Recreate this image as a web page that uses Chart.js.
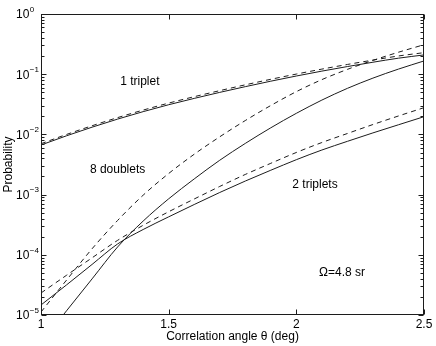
<!DOCTYPE html>
<html>
<head>
<meta charset="utf-8">
<script src="https://cdn.jsdelivr.net/npm/chart.js@4"></script>
<style>
  html, body { margin: 0; padding: 0; background: #fff; }
  canvas { display: block; }
</style>
</head>
<body>
<canvas id="c" width="436" height="346"></canvas>
<script>
// ---- data ----
const theta = [1.0, 1.1, 1.2, 1.3, 1.4, 1.5, 1.6, 1.7, 1.8, 1.9, 2.0, 2.1, 2.2, 2.3, 2.4, 2.5];

const oneTripletSolid    = [0.00667, 0.00948, 0.01318, 0.01795, 0.02388, 0.03112, 0.03963, 0.04989, 0.06209, 0.07656, 0.09333, 0.1125, 0.1340, 0.1581, 0.1845, 0.209];
const oneTripletDashed   = [0.0070, 0.00998, 0.01392, 0.0190, 0.02534, 0.0331, 0.0423, 0.0533, 0.0666, 0.0823, 0.1005, 0.1215, 0.1451, 0.1715, 0.2007, 0.228];
const eightDoubletsSolid = [3.39e-6, 1.175e-5, 3.98e-5, 1.349e-4, 3.63e-4, 8.51e-4, 1.82e-3, 3.72e-3, 7.08e-3, 0.01288, 0.02239, 0.03715, 0.0582, 0.0861, 0.1216, 0.166];
const eightDoubletsDashed= [1.12e-5, 3.80e-5, 1.259e-4, 3.72e-4, 9.77e-4, 2.24e-3, 4.68e-3, 9.12e-3, 0.01698, 0.0302, 0.0513, 0.0813, 0.1202, 0.1698, 0.2317, 0.309];
const twoTripletsSolid   = [1.466e-5, 3.16e-5, 6.92e-5, 1.514e-4, 2.63e-4, 4.27e-4, 6.84e-4, 1.084e-3, 1.679e-3, 2.54e-3, 3.80e-3, 5.50e-3, 7.67e-3, 0.01059, 0.01445, 0.01968];
const twoTripletsDashed  = [2.32e-5, 4.57e-5, 8.91e-5, 1.738e-4, 3.09e-4, 5.19e-4, 8.45e-4, 1.365e-3, 2.16e-3, 3.31e-3, 5.01e-3, 7.33e-3, 0.01035, 0.01459, 0.02023, 0.0278];

const xTicks = [1, 1.5, 2, 2.5];
const xTickLabels = ['1', '1.5', '2', '2.5'];
const yTickExponents = [-5, -4, -3, -2, -1, 0];

const xTitle = 'Correlation angle \u03B8 (deg)';
const yTitle = 'Probability';

// in-plot annotations, anchored in data coordinates (theta, probability)
const annotations = [
  { text: '1 triplet',  x: 1.387, y: 0.0757 },
  { text: '8 doublets', x: 1.300, y: 0.00256 },
  { text: '2 triplets', x: 2.073, y: 0.00144 },
  { text: '\u03A9=4.8 sr', x: 2.179, y: 4.99e-5 }
];

// ---- chart ----
const FONT = '"Liberation Sans", Arial, Helvetica, sans-serif';
const INK = '#1c1c1c';

function series(values, dashed) {
  return {
    data: theta.map((t, i) => ({ x: t, y: values[i] })),
    borderColor: INK,
    borderWidth: 1,
    borderDash: dashed ? [5, 4] : [],
    pointRadius: 0,
    fill: false,
    cubicInterpolationMode: 'monotone'
  };
}

const framePlugin = {
  id: 'frame',
  afterDraw(chart) {
    const ctx = chart.ctx;
    const a = chart.chartArea;
    const xs = chart.scales.x, ys = chart.scales.y;
    ctx.save();
    ctx.strokeStyle = INK;
    ctx.lineWidth = 1;
    const L = Math.round(a.left) + 0.5, R = Math.round(a.right) - 0.5;
    const T = Math.round(a.top) + 0.5, B = Math.round(a.bottom) - 0.5;
    ctx.strokeRect(L, T, R - L, B - T);

    // y ticks (major + minor), on left and right
    ctx.beginPath();
    yTickExponents.forEach(k => {
      const py = Math.round(ys.getPixelForValue(Math.pow(10, k))) + 0.5;
      ctx.moveTo(L, py); ctx.lineTo(L + 5, py);
      ctx.moveTo(R, py); ctx.lineTo(R - 5, py);
      if (k < 0) {
        for (let m = 2; m <= 9; m++) {
          const my = Math.round(ys.getPixelForValue(m * Math.pow(10, k))) + 0.5;
          ctx.moveTo(L, my); ctx.lineTo(L + 3, my);
          ctx.moveTo(R, my); ctx.lineTo(R - 3, my);
        }
      }
    });
    // x ticks, bottom and top
    xTicks.forEach(v => {
      const px = Math.round(xs.getPixelForValue(v)) + 0.5;
      ctx.moveTo(px, B); ctx.lineTo(px, B - 5);
      ctx.moveTo(px, T); ctx.lineTo(px, T + 5);
    });
    ctx.stroke();

    ctx.fillStyle = '#000';
    // y tick labels 10^k
    yTickExponents.forEach(k => {
      const py = ys.getPixelForValue(Math.pow(10, k));
      ctx.font = '12px ' + FONT;
      ctx.textAlign = 'left';
      ctx.textBaseline = 'middle';
      const bx = 16;
      ctx.fillText('10', bx, py + 1);
      const w = ctx.measureText('10').width;
      ctx.font = '8px ' + FONT;
      ctx.fillText(k === 0 ? '0' : '\u2212' + (-k), bx + w + 0.5, py - 4.5);
    });
    // x tick labels
    ctx.font = '12px ' + FONT;
    ctx.textAlign = 'center';
    ctx.textBaseline = 'middle';
    xTicks.forEach((v, i) => {
      ctx.fillText(xTickLabels[i], xs.getPixelForValue(v), 324.5);
    });
    // axis titles
    ctx.fillText(xTitle, (a.left + a.right) / 2, 336.5);
    ctx.save();
    ctx.translate(12, (a.top + a.bottom) / 2);
    ctx.rotate(-Math.PI / 2);
    ctx.textBaseline = 'alphabetic';
    ctx.fillText(yTitle, 0, 0);
    ctx.restore();

    // annotations
    ctx.textBaseline = 'middle';
    annotations.forEach(n => {
      ctx.fillText(n.text, xs.getPixelForValue(n.x), ys.getPixelForValue(n.y));
    });
    ctx.restore();
  }
};

new Chart(document.getElementById('c'), {
  type: 'line',
  data: {
    datasets: [
      series(oneTripletSolid, false),
      series(oneTripletDashed, true),
      series(eightDoubletsSolid, false),
      series(eightDoubletsDashed, true),
      series(twoTripletsSolid, false),
      series(twoTripletsDashed, true)
    ]
  },
  options: {
    responsive: false,
    animation: false,
    devicePixelRatio: 1,
    layout: { padding: { left: 0, right: 12, top: 14, bottom: 0 } },
    plugins: { legend: { display: false }, tooltip: { enabled: false } },
    scales: {
      x: {
        type: 'linear', min: 1, max: 2.5,
        ticks: { display: false },
        grid: { display: false, drawTicks: false },
        border: { display: false },
        afterFit(s) { s.height = 31; }
      },
      y: {
        type: 'logarithmic', min: 1e-5, max: 1,
        ticks: { display: false },
        grid: { display: false, drawTicks: false },
        border: { display: false },
        afterFit(s) { s.width = 41; }
      }
    }
  },
  plugins: [framePlugin]
});
</script>
</body>
</html>
